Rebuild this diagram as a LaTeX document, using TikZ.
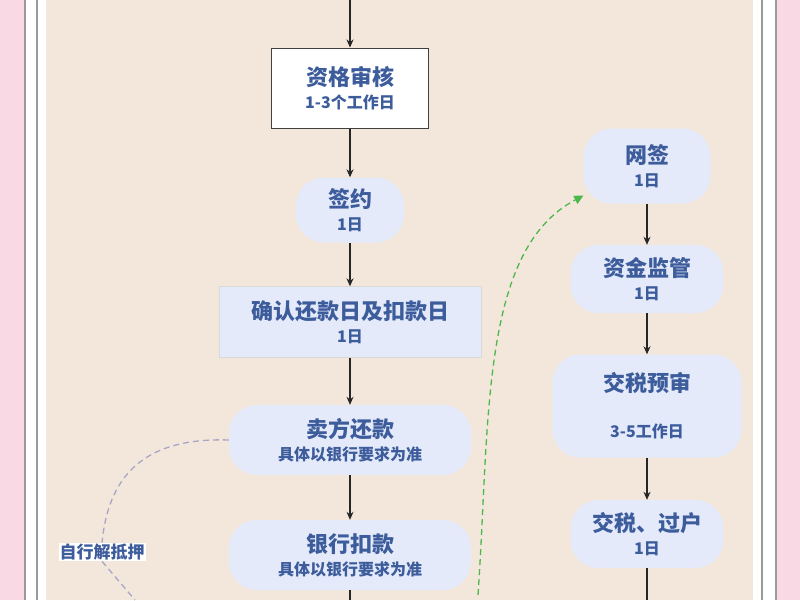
\documentclass[tikz,border=0pt]{standalone}
\usepackage{fontspec}
\setmainfont{Noto Sans CJK SC}
\newcommand\cjkb{\bfseries}
\newcommand\subt{\fontsize{16}{19}\selectfont}
\usetikzlibrary{arrows.meta}
\definecolor{bg}{HTML}{F3E7DC}
\definecolor{pinkbg}{HTML}{F9D9E4}
\definecolor{nfill}{HTML}{E4EAFA}
\definecolor{txt}{HTML}{3D5C9C}
\definecolor{edgeg}{HTML}{9A9A9A}
\definecolor{dgray}{HTML}{A8A6C4}
\begin{document}
\begin{tikzpicture}[x=1pt,y=-1pt,
  rnode/.style={fill=nfill,draw=none,rounded corners=28pt,align=center,text=txt,font=\cjkb\fontsize{22}{26}\selectfont},
  arr/.style={-{Stealth[length=8pt,width=7pt]},line width=1.2pt,black!85}]
\useasboundingbox (0,0) rectangle (800,600);
\fill[pinkbg] (0,0) rectangle (800,600);
\fill[white] (24,0) rectangle (777,600);
\draw[edgeg,line width=1.2pt] (25,0)--(25,600) (37,0)--(37,600) (762,0)--(762,600) (776,0)--(776,600);
\fill[bg] (46,0) rectangle (753,600);
% nodes
\node[draw=black!75,fill=white,line width=1pt,minimum width=157pt,minimum height=80pt,align=center,text=txt,font=\cjkb\fontsize{22}{26}\selectfont] (zg) at (350,88) {资格审核\\[-3pt]{\subt 1-3个工作日}};
\node[rnode,minimum width=108pt,minimum height=65pt] (qy) at (350,210) {签约\\[-3pt]{\subt 1日}};
\node[rnode,rounded corners=0pt,draw=black!15,minimum width=262pt,minimum height=71pt] (qr) at (350,322) {确认还款日及扣款日\\[-3pt]{\subt 1日}};
\node[rnode,minimum width=242pt,minimum height=70pt] (mf) at (350,440) {卖方还款\\[-3pt]{\subt 具体以银行要求为准}};
\node[rnode,minimum width=242pt,minimum height=70pt] (yh) at (350,555) {银行扣款\\[-3pt]{\subt 具体以银行要求为准}};
\node[rnode,minimum width=127pt,minimum height=75pt] (wq) at (647,166) {网签\\[-3pt]{\subt 1日}};
\node[rnode,minimum width=153pt,minimum height=68pt] (zj) at (647,279) {资金监管\\[-3pt]{\subt 1日}};
\node[rnode,minimum width=189pt,minimum height=103pt] (js) at (647,406) {交税预审\\[20pt]{\subt 3-5工作日}};
\node[rnode,minimum width=153pt,minimum height=68pt] (gh) at (647,534) {交税、过户\\[-3pt]{\subt 1日}};
\coordinate (top) at (350,0);
\coordinate (yhb) at (350,600);
\coordinate (ghb) at (647,600);
\draw[arr] (top)--(zg);
\draw[arr] (zg)--(qy);
\draw[arr] (qy)--(qr);
\draw[arr] (qr)--(mf);
\draw[arr] (mf)--(yh);
\draw[line width=1.2pt,black!85] (yh)--(yhb);
\draw[arr] (wq)--(zj);
\draw[arr] (zj)--(js);
\draw[arr] (js)--(gh);
\draw[line width=1.2pt,black!85] (gh)--(ghb);
% green dashed
\coordinate (gs) at (478,595);
\draw[line width=1.3pt,green!60!black!70,dash pattern=on 6pt off 4pt,-{Triangle[length=9pt,width=9pt]}] (gs) .. controls (490,420) and (480,250) .. (wq.205);
% gray dashed
\node[fill=white,inner sep=1pt,text=txt,font=\cjkb\fontsize{17}{20}\selectfont] (zx) at (102,552) {自行解抵押};
\coordinate (ge) at (135,600);
\draw[line width=1.3pt,dgray,dash pattern=on 6pt off 4pt] (mf.west) .. controls (140,437) and (108,480) .. (zx.north);
\draw[line width=1.3pt,dgray,dash pattern=on 6pt off 4pt] (zx.south) -- (ge);
\end{tikzpicture}
\end{document}
